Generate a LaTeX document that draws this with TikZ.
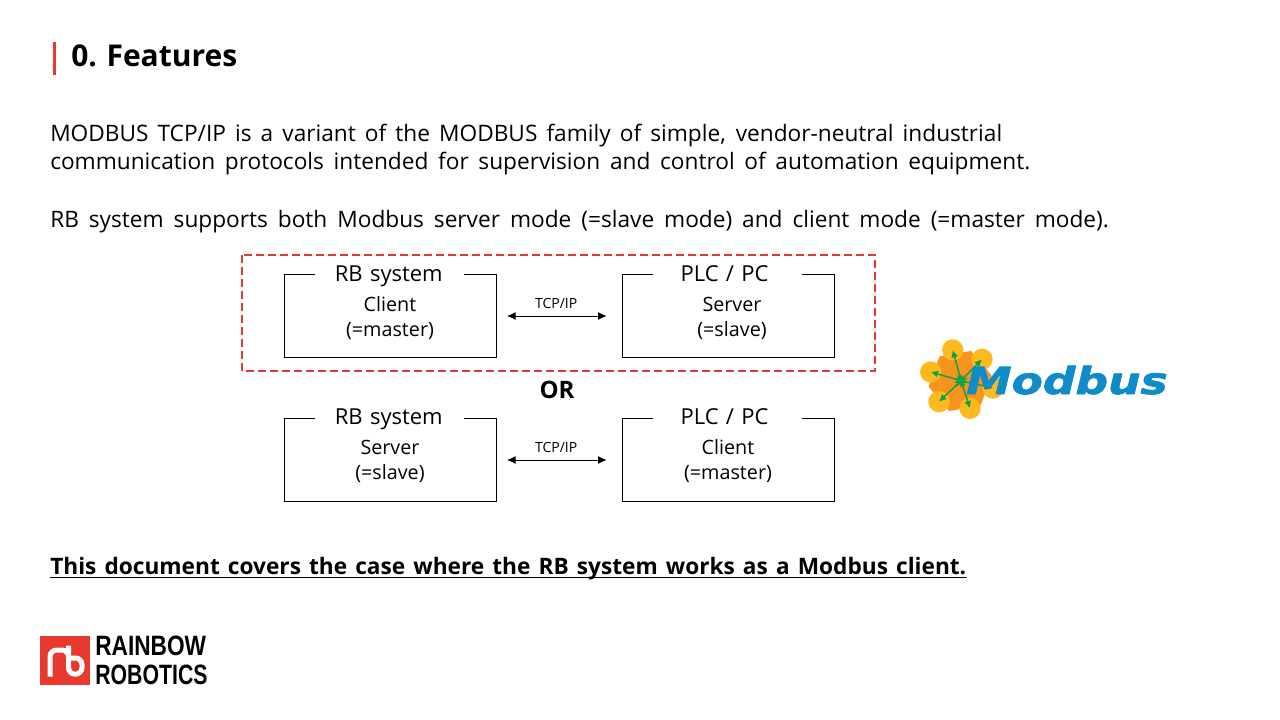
\documentclass[tikz,border=0pt]{standalone}
\usepackage{fontspec}
\setmainfont{Open Sans}
\newfontfamily\logofont{Liberation Sans}
\newfontfamily\modfont{DejaVu Sans}[BoldItalicFeatures={FakeBold=1.6}]
\usetikzlibrary{arrows.meta,shapes.geometric,calc}
\definecolor{rbred}{HTML}{E8392E}
\definecolor{modorange}{HTML}{F7941E}
\definecolor{modyellow}{HTML}{FDB91E}
\definecolor{modgreen}{HTML}{0FA14A}
\definecolor{modblue}{HTML}{0F8CC8}
\newcommand{\fs}[1]{\fontsize{#1}{#1}\selectfont}
\tikzset{
  x=0.75pt,y=-0.75pt,
  line/.style={anchor=base west,inner sep=0pt,font=\fs{17}},
  sysbox/.style={draw=black,line width=0.75pt,minimum width=159pt,minimum height=62.25pt,inner sep=0pt},
  boxtitle/.style={fill=white,anchor=base,inner sep=0pt,text width=112pt,align=center,text height=12pt,text depth=3.5pt,font=\fs{16.5}},
  boxbody/.style={inner sep=0pt,align=center,font=\fs{14.8}},
  tcp/.style={inner sep=0pt,font=\fs{10.5}},
  link/.style={{Latex[length=6.5pt,width=6pt]}-{Latex[length=6.5pt,width=6pt]},line width=0.7pt,shorten <=7.5pt,shorten >=11.5pt},
  spoke/.style={-{Latex[length=5.5pt,width=5.5pt]},draw=modgreen,line width=1.1pt},
  ball/.style={circle,fill=modyellow,minimum size=16pt,inner sep=0pt},
  mark rb/.style={white,line width=3.75pt,rounded corners=5pt,line cap=butt},
}
\newcommand{\rbt}{\makebox[82pt][s]{RB system}}
\newcommand{\plc}{\makebox[70.5pt][s]{PLC / PC}}
\begin{document}
\begin{tikzpicture}
\useasboundingbox (0,0) rectangle (1280,720);
\fill[white] (0,0) rectangle (1280,720);
% title
\fill[rbred] (53,42) rectangle (56,75);
\node[line,font=\bfseries\fs{22.5}] (title) at (71,67) {\makebox[124.5pt][s]{0. Features}};
% paragraphs
\node[line] (p1) at (50,142) {\makebox[714pt][s]{MODBUS TCP/IP is a variant of the MODBUS family of simple, vendor-neutral industrial}};
\node[line] (p2) at (50,170) {\makebox[735pt][s]{communication protocols intended for supervision and control of automation equipment.}};
\node[line] (p3) at (50,228) {\makebox[794pt][s]{RB system supports both Modbus server mode (=slave mode) and client mode (=master mode).}};
% diagram
\draw[rbred,line width=1.5pt,dash pattern=on 6pt off 3pt] (242,255) rectangle (875,371);
\node[sysbox] (a) at (390.5,316) {};
\node[sysbox] (b) at (728.5,316) {};
\node[sysbox] (c) at (390.5,460) {};
\node[sysbox] (d) at (728.5,460) {};
\node[boxtitle] (at) at (389.5,281) {\rbt};
\node[boxtitle] (bt) at (727.5,281) {\plc};
\node[boxtitle] (ct) at (389.5,424) {\rbt};
\node[boxtitle] (dt) at (727.5,424) {\plc};
\node[boxbody] (ab) at (390,318) {Client\\[4.5pt](=master)};
\node[boxbody] (bb) at (732,318) {Server\vphantom{Cl}\\[4.5pt](=slave)};
\node[boxbody] (cb) at (390,461) {Server\vphantom{Cl}\\[4.5pt](=slave)};
\node[boxbody] (db) at (728,461) {Client\\[4.5pt](=master)};
\draw[link] (a) -- node[tcp,above=5.5pt,xshift=-2.5pt] (t1) {TCP/IP} (b);
\draw[link] (c) -- node[tcp,above=5.5pt,xshift=-2.5pt] (t2) {TCP/IP} (d);
\node[inner sep=0pt,font=\bfseries\fs{18}] (or) at (557,390) {OR};
% bottom sentence
\node[line,font=\bfseries\fs{17}] (p4) at (50,574) {\makebox[687pt][s]{This document covers the case where the RB system works as a Modbus client.}};
\draw[black,line width=1.1pt] ($(p4.base west)+(0,3.5)$) -- ($(p4.base east)+(0,3.5)$);
% Modbus logo
\node[regular polygon,regular polygon sides=6,rotate=10,fill=modorange,minimum size=48pt,inner sep=0pt] (hex) at (960,381) {};
\node[ball] (m1) at (952.7,350) {};
\node[ball] (m2) at (982,359.3) {};
\node[ball] (m3) at (930.7,372) {};
\node[ball] (m4) at (939,401.7) {};
\node[ball] (m5) at (970,408.3) {};
\node[ball] (m6) at (993,388) {};
\coordinate (hub) at (961,380.7);
\node[star,star points=10,star point ratio=2,fill=modgreen,minimum size=11pt,inner sep=0pt] (hubs) at (hub) {};
\draw[spoke] (hub) -- (m1.center);
\draw[spoke] (hub) -- (m2.center);
\draw[spoke] (hub) -- (m3.center);
\draw[spoke] (hub) -- (m4.center);
\draw[spoke] (hub) -- (m5.center);
\draw[spoke] (hub) -- (m6.center);
\node[anchor=base west,inner sep=0pt,text=modblue] (modbus) at (966,394) {\scalebox{1.22}[1]{\modfont\bfseries\itshape\fs{28}Modbus}};
% Rainbow Robotics logo
\fill[rbred] (40,636) rectangle (90,685);
\draw[mark rb] (50,676.7) -- (50,650) -- (68.5,650) -- (68.5,660);
\draw[mark rb] (68.5,645.5) -- (68.5,674.2) -- (82,674.2) -- (82,658) -- (66,658);
\node[anchor=base west,inner sep=0pt] (rb1) at (95,655.5) {\scalebox{0.81}[1]{\logofont\bfseries\fs{21}RAINBOW}};
\node[anchor=base west,inner sep=0pt] (rb2) at (95,684) {\scalebox{0.76}[1]{\logofont\bfseries\fs{21}ROBOTICS}};
\end{tikzpicture}
\end{document}
